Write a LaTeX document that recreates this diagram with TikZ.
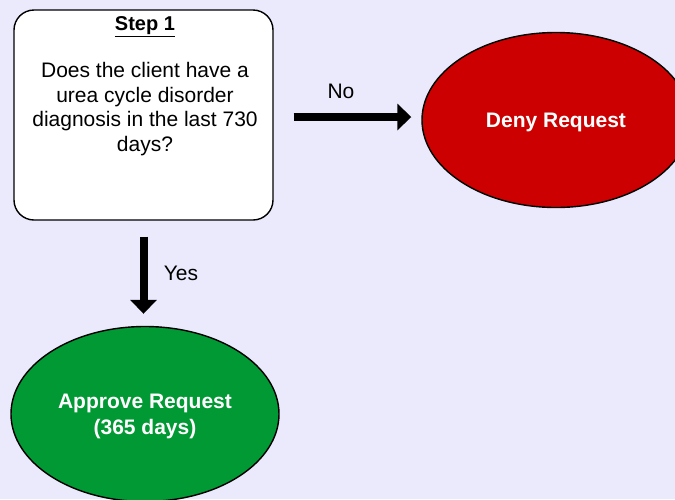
\documentclass[tikz,border=0pt]{standalone}
\usepackage{fontspec}
\setmainfont{Liberation Sans}
\usetikzlibrary{shapes.geometric,arrows.meta}
\definecolor{bgcol}{RGB}{234,234,252}
\definecolor{denyred}{RGB}{204,0,0}
\definecolor{okgreen}{RGB}{0,153,51}
\tikzset{
  qbox/.style={draw=black,line width=1.4pt,fill=white,rounded corners=20pt,minimum width=259pt,minimum height=210pt,inner sep=0pt},
  endoval/.style={ellipse,draw=black,line width=1.4pt,minimum width=268pt,minimum height=175pt,inner sep=0pt,text=white,font=\fontsize{21}{26}\selectfont\bfseries,align=center,text depth=0pt},
  bigarrow/.style={line width=8pt,-{Triangle[width=26pt,length=14pt]}},
  lbl/.style={font=\fontsize{21}{24}\selectfont,inner sep=0pt},
}
\begin{document}
\begin{tikzpicture}[x=1pt,y=-1pt]
\useasboundingbox (0,0) rectangle (675,499);
\clip (0,0) rectangle (675,499);
\fill[bgcol] (0,0) rectangle (675,499);
\node[qbox] (box) at (143.5,115) {};
\node[font=\fontsize{20}{24}\selectfont\bfseries,inner sep=0pt] (step) at (145,27) {\underline{Step 1}};
\node[font=\fontsize{21}{24.7}\selectfont,align=center,inner sep=0pt] (q) at (145,109) {Does the client have a\\urea cycle disorder\\diagnosis in the last 730\\days?};
\node[endoval,fill=denyred] (deny) at (556,120) {Deny Request};
\node[endoval,fill=okgreen] (approve) at (145,414) {Approve Request\\(365 days)};
\draw[bigarrow,shorten <=20pt,shorten >=10pt] ([yshift=-2pt]box.east) -- ([yshift=-2pt]box.east -| deny.west);
\draw[bigarrow,shorten <=16pt,shorten >=12pt] (box.south) -- (box.south |- approve.north);
\node[lbl] (no) at (341,91) {No};
\node[lbl] (yes) at (181,273) {Yes};
\end{tikzpicture}
\end{document}
